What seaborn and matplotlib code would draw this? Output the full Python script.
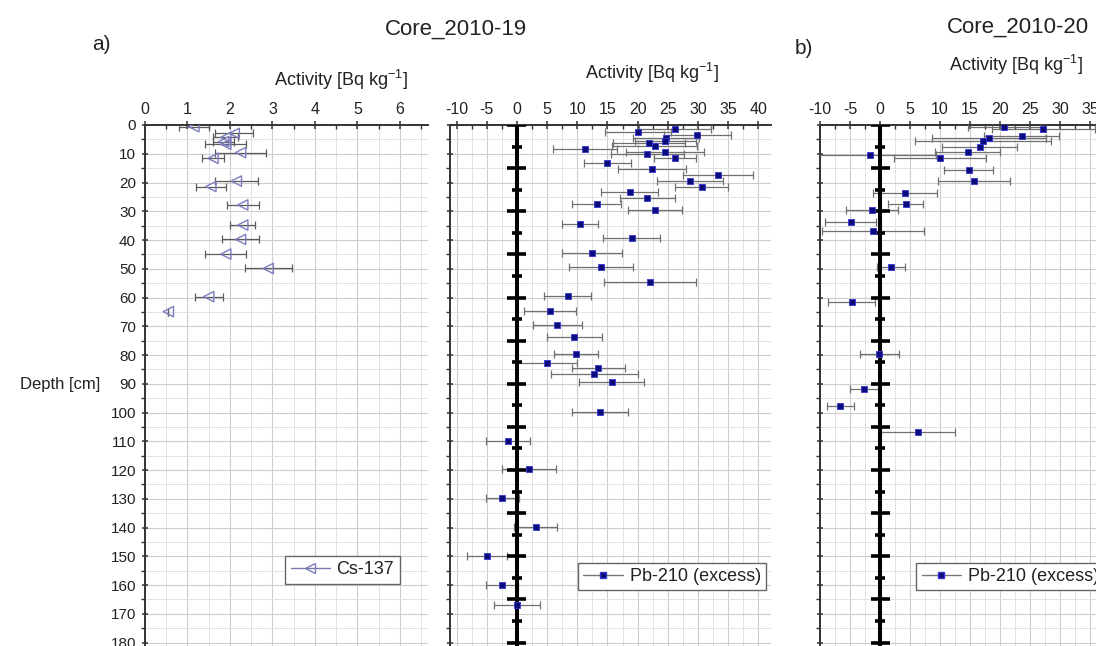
import numpy as np
import matplotlib
matplotlib.use("Agg")
import matplotlib.pyplot as plt
from matplotlib.ticker import MultipleLocator
from matplotlib.lines import Line2D
import seaborn as sns

# --- Cs-137, core 2010-19 -------------------------------------------------
cs_depth = [0.6, 2.9, 4.3, 5.8, 6.7, 9.6, 11.6, 19.5, 21.4, 27.8, 34.8, 39.8,
            44.9, 49.9, 59.7, 64.9]
cs_act = [1.15, 2.10, 1.90, 1.85, 1.90, 2.25, 1.60, 2.15, 1.55, 2.30, 2.30,
          2.25, 1.90, 2.90, 1.50, 0.55]
cs_err = [0.35, 0.45, 0.30, 0.25, 0.48, 0.60, 0.25, 0.50, 0.35, 0.38, 0.30,
          0.43, 0.48, 0.55, 0.33, 0.00]

# --- Pb-210 (excess), core 2010-19 -----------------------------------------
pb19_depth = [1.4, 2.6, 3.5, 4.4, 5.6, 6.1, 7.2, 8.3, 9.5, 10.1, 11.4, 13.3,
              15.4, 17.4, 19.4, 21.5, 23.4, 25.4, 27.5, 29.6, 34.5, 39.4,
              44.6, 49.5, 54.5, 59.5, 64.6, 69.6, 73.6, 79.7, 82.7, 84.6,
              86.6, 89.5, 99.7, 109.8, 119.8, 129.6, 139.8, 149.8, 160.0,
              167.0]
pb19_act = [26.2, 20.1, 29.9, 24.7, 24.6, 21.9, 22.8, 11.3, 24.5, 21.6, 26.2,
            15.0, 22.4, 33.3, 28.7, 30.6, 18.7, 21.6, 13.2, 22.9, 10.4, 19.0,
            12.4, 13.9, 22.1, 8.4, 5.5, 6.7, 9.5, 9.8, 4.9, 13.5, 12.8, 15.7,
            13.8, -1.5, 2.0, -2.4, 3.1, -5.0, -2.5, 0.0]
pb19_err = [5.9, 5.5, 5.5, 5.5, 5.0, 6.0, 7.0, 5.3, 6.5, 6.0, 3.5, 3.9, 5.6,
            5.8, 5.5, 4.4, 4.7, 4.6, 4.0, 4.5, 3.0, 4.7, 5.0, 5.3, 7.6, 3.9,
            4.3, 4.0, 4.6, 3.7, 5.0, 4.4, 7.2, 5.4, 4.6, 3.7, 4.5, 2.7, 3.6,
            3.3, 2.6, 3.8]

# --- Pb-210 (excess), core 2010-20 -----------------------------------------
pb20_depth = [0.8, 1.5, 3.7, 4.4, 5.5, 7.5, 9.5, 10.3, 11.6, 15.7, 19.6, 23.5,
              27.6, 29.6, 33.6, 36.8, 49.5, 61.7, 79.8, 91.7, 97.7, 106.8]
pb20_act = [20.7, 27.2, 23.6, 18.2, 17.2, 16.6, 14.6, -1.7, 10.0, 14.8, 15.7,
            4.2, 4.3, -1.3, -4.9, -1.1, 1.8, -4.7, -0.1, -2.6, -6.6, 6.3]
pb20_err = [6.0, 8.6, 6.3, 9.5, 11.3, 6.2, 5.4, 11.0, 7.6, 4.1, 6.0, 5.3, 2.9,
            4.3, 4.2, 8.5, 2.3, 3.9, 3.2, 2.4, 2.2, 6.2]

x_label = r"Activity [Bq kg$^{-1}$]"

sns.set_theme(style="white")
plt.rcParams["font.family"] = ["Liberation Sans", "DejaVu Sans"]
plt.rcParams["mathtext.fontset"] = "custom"
plt.rcParams["mathtext.rm"] = "Liberation Sans"
plt.rcParams["mathtext.default"] = "regular"
plt.rcParams["axes.unicode_minus"] = False
plt.rcParams["text.color"] = "#222222"

W, H = 1096, 646
DEPTH_MAX = 181.2
fig = plt.figure(figsize=(W / 100, H / 100), dpi=100)
fig.patch.set_facecolor("white")


def add_panel(left, right, top=125, bottom=646):
    return fig.add_axes([left / W, 1 - bottom / H, (right - left) / W,
                         (bottom - top) / H])


def style_panel(ax, xlim, major, minor, depth_labels):
    ax.set_xlim(*xlim)
    ax.set_ylim(DEPTH_MAX, 0)
    ax.set_facecolor("white")
    ax.xaxis.set_major_locator(MultipleLocator(major))
    ax.xaxis.set_minor_locator(MultipleLocator(minor))
    ax.yaxis.set_major_locator(MultipleLocator(10))
    ax.yaxis.set_minor_locator(MultipleLocator(5))
    ax.xaxis.set_ticks_position("top")
    ax.tick_params(axis="x", which="both", top=True, bottom=False,
                   labeltop=True, labelbottom=False, colors="#333333",
                   labelcolor="#222222")
    ax.tick_params(axis="x", which="major", direction="inout", length=6,
                   width=1.1, labelsize=11.5, pad=3)
    ax.tick_params(axis="x", which="minor", direction="in", length=3,
                   width=1.0)
    ax.tick_params(axis="y", which="both", left=True, right=False,
                   colors="#333333", labelcolor="#222222")
    ax.tick_params(axis="y", which="major", direction="inout", length=5,
                   width=1.1, labelsize=11, pad=4, labelleft=depth_labels)
    ax.tick_params(axis="y", which="minor", direction="out", length=3,
                   width=1.0)
    for side in ("right", "bottom"):
        ax.spines[side].set_visible(False)
    for side in ("left", "top"):
        ax.spines[side].set_color("#333333")
        ax.spines[side].set_linewidth(1.4)
    ax.grid(True, which="major", color="#cdcdcd", linewidth=0.8)
    ax.grid(True, which="minor", color="#e2e2e2", linewidth=0.7)
    ax.set_axisbelow(True)
    ax.set_xlabel("")
    ax.set_ylabel("")


def zero_axis(ax, px_per_unit):
    """Thick black axis at activity = 0 with depth bars every 7.5 cm."""
    ax.axvline(0, color="black", linewidth=2.9, zorder=4)
    major = np.arange(0, DEPTH_MAX, 15.0)
    minor = np.arange(7.5, DEPTH_MAX, 15.0)
    half_major = 9.5 / px_per_unit
    half_minor = 5.0 / px_per_unit
    ax.hlines(major, -half_major, half_major, colors="black",
              linewidth=2.6, zorder=4)
    ax.hlines(minor, -half_minor, half_minor, colors="black",
              linewidth=2.6, zorder=4)


def pb_points(ax, act, depth, err):
    ax.errorbar(act, depth, xerr=err, fmt="none", ecolor="#707070",
                elinewidth=0.9, capsize=3, capthick=0.9, zorder=3)
    sns.scatterplot(x=act, y=depth, ax=ax, marker="s", s=22,
                    color="#0c0c78", edgecolor="#3535d5", linewidth=0.6,
                    zorder=5, legend=False)


def add_legend(ax, handle, label, anchor):
    leg = ax.legend(handles=[handle], labels=[label], loc="upper left",
                    bbox_to_anchor=anchor, frameon=True, fancybox=False,
                    edgecolor="#666666", framealpha=1, fontsize=13,
                    borderpad=0.3, borderaxespad=0, handlelength=2.2,
                    handletextpad=0.35)
    leg.get_frame().set_linewidth(1.0)
    leg.set_zorder(6)
    return leg


# Panel a): Cs-137
ax1 = add_panel(145, 428)
ax1.errorbar(cs_act, cs_depth, xerr=cs_err, fmt="none", ecolor="#5a5a5a",
             elinewidth=0.9, capsize=3, capthick=0.9, zorder=3)
sns.scatterplot(x=cs_act, y=cs_depth, ax=ax1, marker="<", s=55,
                facecolor="none", edgecolor="#7d7dc0", linewidth=1.0,
                zorder=5, legend=False)
style_panel(ax1, (0, 6.66), 1, 0.5, True)
add_legend(ax1, Line2D([], [], color="#7777aa", lw=1.0, marker="<", ms=7,
                       mfc="none", mec="#7d7dc0"), "Cs-137", (0.495, 0.173))

# Panel a): Pb-210, core 2010-19
ax2 = add_panel(450, 771)
pb_points(ax2, pb19_act, pb19_depth, pb19_err)
style_panel(ax2, (-11.1, 42.1), 5, 2.5, False)
zero_axis(ax2, 321 / 53.2)
pb_handle = Line2D([], [], color="#777777", lw=1.0, marker="s", ms=4,
                   mfc="#0c0c78", mec="#3535d5")
add_legend(ax2, pb_handle, "Pb-210 (excess)", (0.399, 0.160))

# Panel b): Pb-210, core 2010-20 (extends past the right edge)
ax3 = add_panel(820, 1132)
pb_points(ax3, pb20_act, pb20_depth, pb20_err)
style_panel(ax3, (-10, 42), 5, 2.5, False)
zero_axis(ax3, 312 / 52.0)
add_legend(ax3, pb_handle, "Pb-210 (excess)", (0.308, 0.160))

# Headings and axis titles
fig.text(101 / W, 1 - 44 / H, "a)", fontsize=15, ha="center", va="center")
fig.text(804 / W, 1 - 48 / H, "b)", fontsize=15, ha="center", va="center")
fig.text(456 / W, 1 - 29 / H, "Core_2010-19", fontsize=16, ha="center",
         va="center")
fig.text(1018 / W, 1 - 27 / H, "Core_2010-20", fontsize=16, ha="center",
         va="center")
fig.text(341 / W, 1 - 80 / H, x_label, fontsize=13, ha="center", va="center")
fig.text(652 / W, 1 - 73 / H, x_label, fontsize=13, ha="center", va="center")
fig.text(1016 / W, 1 - 65 / H, x_label, fontsize=13, ha="center", va="center")
fig.text(20 / W, 1 - 385 / H, "Depth [cm]", fontsize=12, ha="left",
         va="center")

fig.savefig("out.png", dpi=100)
